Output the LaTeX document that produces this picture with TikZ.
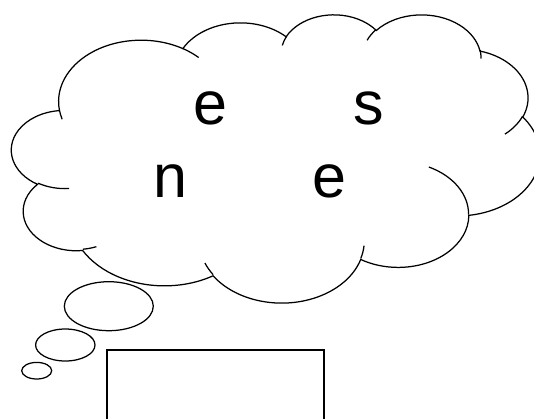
\documentclass[tikz,border=0pt]{standalone}
\usepackage{fontspec}
\setmainfont{Liberation Sans}
% OOXML-style arcTo: radii, visual start angle, visual sweep
\newcommand\ooarc[4]{arc[x radius=#1, y radius=#2, start angle={atan2(#1*sin(#3),#2*cos(#3))}, delta angle={mod(atan2(#1*sin(#3+#4),#2*cos(#3+#4))-atan2(#1*sin(#3),#2*cos(#3))+720,360)}]}
\tikzset{
  cloudline/.style={draw=black, line width=1.25pt},
  bubble/.style={draw=black, line width=1.25pt},
  boxline/.style={draw=black, line width=1.7pt},
  letter/.style={anchor=base, inner sep=0pt, font=\fontsize{61}{61}\selectfont}
}
\begin{document}
\begin{tikzpicture}[x=1pt, y=1pt]
\useasboundingbox (0,0) rectangle (534,-418);
\clip (0,0) rectangle (534,-418);
\fill[white] (0,0) rectangle (534,-418);
\begin{scope}[shift={(11.7pt,-13.9pt)}, x=12.222pt, y=-6.670pt]
\draw[cloudline] (3.9,14.37) \ooarc{6.753}{9.190}{-190.4875}{123.7805}
 \ooarc{5.333}{7.267}{-144.1024}{89.9452}
 \ooarc{4.365}{5.945}{-145.8079}{99.7230}
 \ooarc{4.857}{6.595}{-130.9861}{117.2417}
 \ooarc{5.333}{7.273}{-78.7089}{109.0269}
 \ooarc{6.775}{9.220}{-46.2673}{130.2690}
 \ooarc{5.785}{7.867}{0.6250}{114.0333}
 \ooarc{6.752}{9.215}{22.4516}{115.1726}
 \ooarc{7.720}{10.543}{66.2426}{75.7110}
 \ooarc{4.360}{5.918}{-274.9421}{146.7356}
 \ooarc{4.345}{5.945}{-246.8285}{152.5189}
 -- cycle;
\draw[cloudline] (4.693,26.177) \ooarc{4.345}{5.945}{86.7420}{26.4295};
\draw[cloudline] (6.928,34.899) \ooarc{4.360}{5.918}{73.6105}{11.4475};
\draw[cloudline] (16.478,39.090) \ooarc{6.752}{9.215}{137.6242}{14.0811};
\draw[cloudline] (28.827,34.751) \ooarc{6.752}{9.215}{6.4533}{15.9984};
\draw[cloudline] (34.129,22.954) \ooarc{5.785}{7.867}{-70.2924}{70.9174};
\draw[cloudline] (41.798,15.354) \ooarc{5.333}{7.273}{30.3180}{27.7515};
\draw[cloudline] (38.324,5.426) \ooarc{4.857}{6.595}{-13.7443}{14.8589};
\draw[cloudline] (29.078,3.952) \ooarc{4.857}{6.595}{-149.1815}{18.1954};
\draw[cloudline] (22.141,4.720) \ooarc{4.365}{5.945}{-163.4943}{17.6864};
\draw[cloudline] (14.000,5.192) \ooarc{6.753}{9.190}{-66.7070}{12.3194};
\draw[cloudline] (4.127,15.789) \ooarc{6.753}{9.190}{157.6544}{11.8582};
\end{scope}
% thought bubbles
\draw[bubble] (108.8,-306.2) ellipse [x radius=44.5, y radius=24.5];
\draw[bubble] (65.3,-345) ellipse [x radius=29.7, y radius=16];
\draw[bubble] (36.7,-370.7) ellipse [x radius=15, y radius=8.3];
% box
\draw[boxline] (107.3,-350) rectangle (324.3,-440);
% letters
\node[letter] (e1) at (210.8,-124.5) {e};
\node[letter] (s1) at (368.3,-124.5) {s};
\node[letter] (n1) at (170.8,-197.5) {n};
\node[letter] (e2) at (329.2,-197.5) {e};
\end{tikzpicture}
\end{document}
